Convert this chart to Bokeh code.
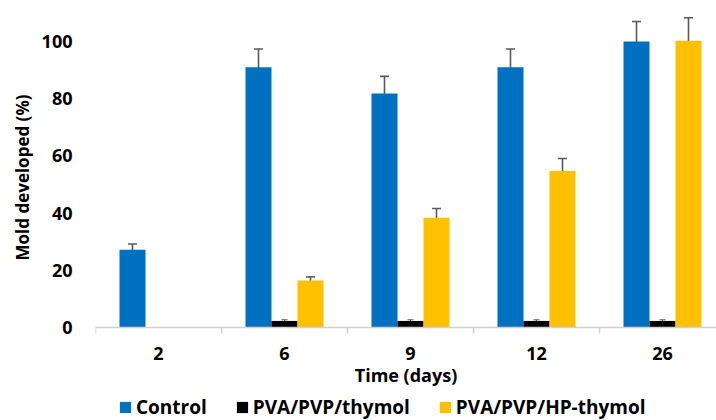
from bokeh.plotting import figure
from bokeh.models import (ColumnDataSource, Range1d, FixedTicker, Whisker, TeeHead,
                          Legend, LegendItem, Title)
from bokeh.transform import dodge
from bokeh.embed import file_html
from bokeh.resources import INLINE

# ---- data ----
days = ["2", "6", "9", "12", "26"]
control = [27.2, 91.0, 81.8, 91.0, 100.0]
control_err = [2.0, 6.4, 6.0, 6.4, 7.0]
pva_thymol = [0, 2.3, 2.3, 2.3, 2.3]
pva_thymol_err = [0, 0.4, 0.4, 0.4, 0.4]
pva_hp_thymol = [0, 16.4, 38.4, 54.7, 100.3]
pva_hp_thymol_err = [0, 1.3, 3.2, 4.4, 8.0]
y_ticks = [0, 20, 40, 60, 80, 100]

series_names = ["Control", "PVA/PVP/thymol", "PVA/PVP/HP-thymol"]
colors = ["#0070C0", "#000000", "#FFC000"]

FONT = "Open Sans"
BW = 26 / 126  # bar width as fraction of category

xc = [i + 0.5 for i in range(len(days))]
src = ColumnDataSource(dict(
    x=xc,
    c=control, ce_lo=[v - e for v, e in zip(control, control_err)],
    ce_hi=[v + e for v, e in zip(control, control_err)],
    b=pva_thymol, y=pva_hp_thymol,
))
# error bars only where a bar exists
mask_src = ColumnDataSource(dict(
    x=xc[1:],
    be_lo=[v - e for v, e in zip(pva_thymol[1:], pva_thymol_err[1:])],
    be_hi=[v + e for v, e in zip(pva_thymol[1:], pva_thymol_err[1:])],
    ye_lo=[v - e for v, e in zip(pva_hp_thymol[1:], pva_hp_thymol_err[1:])],
    ye_hi=[v + e for v, e in zip(pva_hp_thymol[1:], pva_hp_thymol_err[1:])],
))

W, H = 716, 420
left = 95
px_per_unit = 2.86
base_px = 327
cat_px = 126.0
p = figure(width=W, height=H, output_backend="svg", toolbar_location=None,
           x_range=Range1d(0, (W - left) / cat_px),
           y_range=Range1d(-(H - base_px) / px_per_unit, base_px / px_per_unit),
           min_border_left=left, min_border_right=0, min_border_top=0, min_border_bottom=0)
p.outline_line_color = None
p.grid.grid_line_color = None

r_c = p.vbar(x=dodge("x", -BW, range=p.x_range), top="c", width=BW, source=src,
             fill_color=colors[0], line_color=None)
r_b = p.vbar(x=dodge("x", 0, range=p.x_range), top="b", width=BW, source=src,
             fill_color=colors[1], line_color=None)
r_y = p.vbar(x=dodge("x", BW, range=p.x_range), top="y", width=BW, source=src,
             fill_color=colors[2], line_color=None)

EC = "#5a5a5a"
def whisk(source, x_off, lo, hi, lw=1.6, size=9):
    w = Whisker(source=source, base=dodge("x", x_off, range=p.x_range), lower=lo, upper=hi,
                line_color=EC, line_width=lw,
                upper_head=TeeHead(size=size, line_color=EC, line_width=lw),
                lower_head=TeeHead(size=size, line_color=EC, line_width=lw))
    p.add_layout(w)

whisk(src, -BW, "ce_lo", "ce_hi")
whisk(mask_src, 0, "be_lo", "be_hi", lw=1.0, size=6)
whisk(mask_src, BW, "ye_lo", "ye_hi")

# x axis fixed at y=0
xa = p.xaxis[0]
xa.fixed_location = 0
xa.ticker = FixedTicker(ticks=xc, minor_ticks=list(range(len(days) + 1)))
xa.major_label_overrides = {x: d for x, d in zip(xc, days)}
xa.axis_line_color = "#d0d0d0"
xa.axis_line_width = 1.5
xa.major_tick_line_color = None
xa.major_tick_out = 0
xa.major_tick_in = 0
xa.minor_tick_line_color = "#d0d0d0"
xa.minor_tick_line_width = 1.5
xa.minor_tick_out = 6
xa.minor_tick_in = 0
xa.major_label_standoff = 13
xa.major_label_text_font = FONT
xa.major_label_text_font_style = "bold"
xa.major_label_text_font_size = "18px"
xa.major_label_text_color = "#000000"
xa.axis_label = "Time (days)"
xa.axis_label_text_font = FONT
xa.axis_label_text_font_style = "bold"
xa.axis_label_text_font_size = "18px"
xa.axis_label_text_color = "#000000"
xa.axis_label_standoff = 0

ya = p.yaxis[0]
ya.ticker = FixedTicker(ticks=y_ticks, minor_ticks=[])
ya.axis_line_color = None
ya.major_tick_line_color = None
ya.minor_tick_line_color = None
ya.major_tick_out = 0
ya.major_tick_in = 0
ya.major_label_standoff = 23
ya.major_label_text_font = FONT
ya.major_label_text_font_style = "bold"
ya.major_label_text_font_size = "18px"
ya.major_label_text_color = "#000000"

# y axis title placed as a side title so it can sit over the upper plot area
p.add_layout(Title(text="Mold developed (%)", align="left", offset=160,
                   text_font=FONT, text_font_style="bold", text_font_size="17px",
                   text_color="#000000", standoff=10), "left")

legend = Legend(items=[LegendItem(label=series_names[0], renderers=[r_c]),
                       LegendItem(label=series_names[1], renderers=[r_b]),
                       LegendItem(label=series_names[2], renderers=[r_y])],
                orientation="horizontal", location=(23, 0),
                glyph_width=14, glyph_height=14, label_standoff=4, spacing=28,
                padding=0, margin=0,
                background_fill_alpha=0, border_line_color=None,
                label_text_font=FONT, label_text_font_style="bold",
                label_text_font_size="19px", label_text_color="#000000")
p.add_layout(legend, "center")

open("out.html", "w").write(file_html(p, INLINE))
